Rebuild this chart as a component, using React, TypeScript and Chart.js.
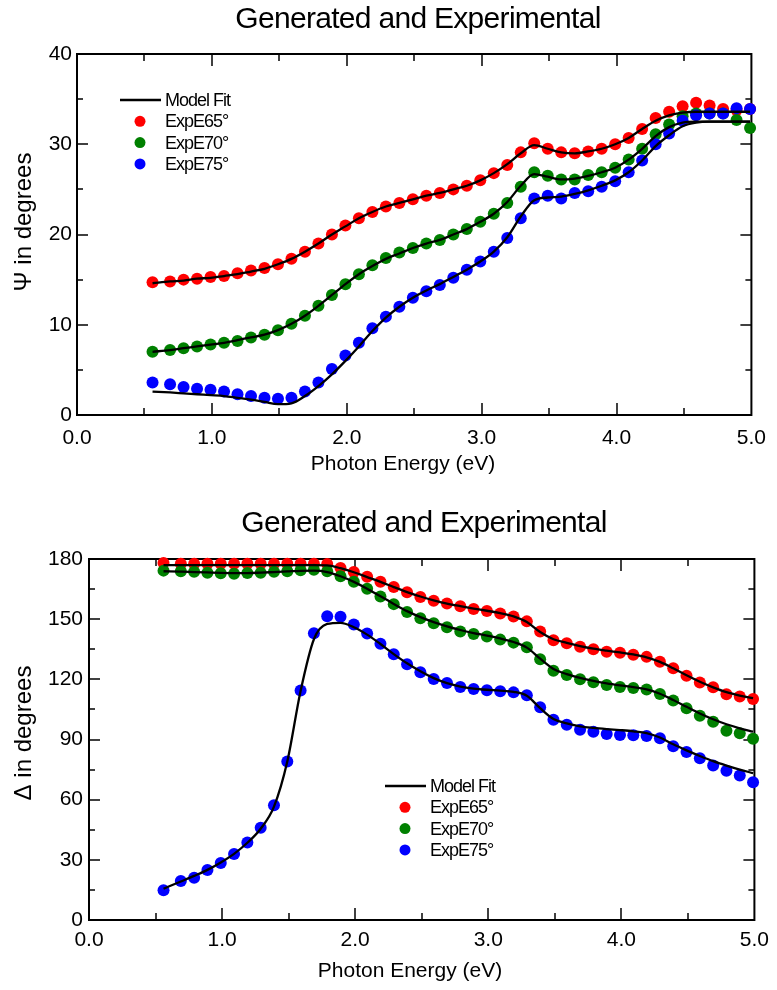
import React, { useEffect, useRef } from 'react';
import { Chart, registerables } from 'chart.js';

Chart.register(...registerables);

const FONT = '"Liberation Sans", Arial, Helvetica, sans-serif';

// Photon energy (eV) of every measured / fitted sample
const ENERGY = [0.56, 0.69, 0.79, 0.89, 0.99, 1.09, 1.19, 1.29, 1.39, 1.49, 1.59, 1.69, 1.79, 1.89, 1.99,
  2.09, 2.19, 2.29, 2.39, 2.49, 2.59, 2.69, 2.79, 2.89, 2.99, 3.09, 3.19, 3.29, 3.39, 3.49,
  3.59, 3.69, 3.79, 3.89, 3.99, 4.09, 4.19, 4.29, 4.39, 4.49, 4.59, 4.69, 4.79, 4.89, 4.99];

// Psi (degrees) - experimental
const PSI_65 = [14.7, 14.8, 15.0, 15.1, 15.3, 15.4, 15.7, 16.0, 16.3, 16.7, 17.3, 18.1, 19.0, 20.0, 21.0,
  21.8, 22.5, 23.1, 23.5, 23.9, 24.3, 24.6, 25.0, 25.4, 26.0, 26.8, 27.7, 29.1, 30.1, 29.5,
  29.1, 29.0, 29.2, 29.5, 30.0, 30.7, 31.7, 32.9, 33.6, 34.2, 34.6, 34.3, 33.9, 33.8, 33.9];
const PSI_70 = [7.0, 7.2, 7.4, 7.6, 7.8, 8.0, 8.2, 8.6, 8.9, 9.4, 10.1, 11.0, 12.1, 13.3, 14.5,
  15.6, 16.6, 17.4, 18.0, 18.5, 19.0, 19.4, 20.0, 20.6, 21.4, 22.3, 23.5, 25.3, 26.9, 26.5,
  26.1, 26.1, 26.6, 26.9, 27.4, 28.3, 29.5, 31.1, 32.2, 33.1, 33.4, 33.4, 33.4, 32.7, 31.8];
const PSI_75 = [3.6, 3.4, 3.1, 2.9, 2.8, 2.6, 2.3, 2.1, 1.9, 1.8, 1.9, 2.6, 3.6, 5.1, 6.6,
  8.0, 9.6, 10.9, 12.0, 13.0, 13.7, 14.4, 15.2, 16.1, 17.0, 18.1, 19.6, 21.8, 24.0, 24.3,
  24.0, 24.6, 24.8, 25.3, 25.9, 26.9, 28.2, 30.0, 31.2, 32.6, 33.2, 33.4, 33.4, 34.0, 33.9];
// Psi (degrees) - model fit
const PSI_FIT_65 = [14.6, 14.8, 14.9, 15.1, 15.2, 15.4, 15.6, 15.9, 16.2, 16.7, 17.3, 18.1, 19.0, 20.0, 20.9,
  21.8, 22.5, 23.1, 23.5, 23.9, 24.3, 24.6, 25.0, 25.4, 26.0, 26.8, 27.8, 29.0, 29.9, 29.5,
  29.1, 29.0, 29.2, 29.5, 30.0, 30.7, 31.7, 32.6, 33.2, 33.5, 33.6, 33.6, 33.6, 33.6, 33.6];
const PSI_FIT_70 = [7.0, 7.2, 7.4, 7.6, 7.8, 8.0, 8.3, 8.6, 8.9, 9.4, 10.1, 11.0, 12.1, 13.3, 14.5,
  15.6, 16.5, 17.3, 17.9, 18.5, 19.0, 19.4, 20.0, 20.6, 21.4, 22.3, 23.6, 25.4, 26.7, 26.4,
  26.1, 26.2, 26.5, 26.9, 27.4, 28.3, 29.5, 30.9, 31.9, 32.4, 32.5, 32.5, 32.5, 32.5, 32.5];
const PSI_FIT_75 = [2.6, 2.5, 2.4, 2.3, 2.2, 2.1, 1.9, 1.7, 1.45, 1.2, 1.3, 2.1, 3.2, 4.5, 6.0,
  7.6, 9.3, 10.8, 12.0, 13.0, 13.8, 14.5, 15.3, 16.1, 17.0, 18.1, 19.7, 22.0, 23.8, 24.1,
  24.2, 24.5, 24.9, 25.4, 26.0, 26.9, 28.2, 29.8, 31.0, 32.0, 32.4, 32.5, 32.5, 32.5, 32.5];

// Delta (degrees) - experimental
const DELTA_65 = [178.0, 177.6, 177.6, 177.6, 177.6, 177.6, 177.6, 177.6, 177.6, 177.6, 177.6, 177.6, 177.5, 175.5, 173.5,
  171.1, 168.6, 166.0, 163.4, 161.1, 159.2, 157.8, 156.4, 155.1, 154.1, 152.8, 151.3, 148.9, 143.9, 139.5,
  138.0, 136.2, 135.0, 133.8, 133.2, 132.2, 131.2, 128.8, 125.5, 121.8, 118.4, 116.1, 112.6, 111.4, 110.2];
const DELTA_70 = [174.2, 173.9, 173.6, 173.2, 172.9, 172.7, 173.0, 173.2, 173.6, 173.9, 174.4, 174.6, 173.9, 171.4, 168.6,
  165.2, 161.3, 157.5, 153.6, 150.5, 148.0, 146.0, 143.9, 142.6, 141.4, 139.8, 138.3, 136.0, 130.0, 124.3,
  122.2, 120.0, 118.5, 117.2, 116.2, 115.7, 114.9, 112.7, 109.4, 105.6, 101.9, 98.9, 94.4, 93.1, 90.4];
const DELTA_75 = [14.8, 19.5, 21.1, 24.9, 28.4, 32.9, 38.7, 46.0, 57.2, 79.0, 114.4, 143.0, 151.4, 151.2, 147.3,
  142.9, 137.8, 132.5, 127.5, 123.5, 120.2, 118.2, 116.2, 115.2, 114.6, 114.0, 113.5, 112.1, 106.1, 99.9,
  97.3, 94.9, 93.9, 92.8, 92.3, 92.1, 91.8, 90.6, 86.6, 83.8, 80.6, 77.0, 74.4, 72.0, 68.7];
// Delta (degrees) - model fit
const DELTA_FIT_65 = [176.9, 176.9, 176.9, 176.9, 176.9, 176.9, 176.9, 176.9, 176.9, 176.9, 176.9, 176.9, 176.8, 175.4, 173.4,
  171.0, 168.6, 166.0, 163.5, 161.3, 159.4, 157.8, 156.5, 155.3, 154.2, 153.0, 151.4, 148.6, 143.6, 140.0,
  138.2, 136.6, 135.3, 134.3, 133.4, 132.4, 131.0, 128.7, 125.5, 122.0, 118.8, 116.0, 113.6, 111.9, 110.6];
const DELTA_FIT_70 = [173.9, 173.7, 173.5, 173.3, 173.1, 173.0, 173.0, 173.2, 173.5, 173.8, 174.1, 174.2, 173.5, 171.4, 168.6,
  165.2, 161.4, 157.6, 154.0, 151.0, 148.5, 146.4, 144.6, 143.1, 141.8, 140.4, 138.6, 135.8, 130.3, 125.2,
  122.6, 120.7, 119.2, 118.0, 117.0, 116.1, 115.0, 112.8, 109.7, 106.3, 103.0, 100.1, 97.6, 95.6, 93.9];
const DELTA_FIT_75 = [15.6, 19.2, 22.0, 25.0, 28.7, 33.0, 38.5, 45.5, 56.5, 79.0, 114.2, 140.0, 147.6, 148.2, 146.0,
  142.3, 137.6, 132.6, 128.0, 124.0, 120.6, 118.1, 116.4, 115.4, 114.8, 114.4, 113.8, 111.8, 105.6, 100.2,
  98.0, 96.6, 95.8, 95.2, 94.7, 94.1, 93.2, 91.0, 87.6, 84.6, 81.8, 79.2, 77.0, 75.0, 73.2];

const SERIES_LABELS = ['ExpE65°', 'ExpE70°', 'ExpE75°'];
const FIT_LABEL = 'Model Fit';
const COLORS = ['#ff0000', '#008000', '#0000ff'];
const TITLE = 'Generated and Experimental';
const X_TITLE = 'Photon Energy (eV)';

const pts = (ys: number[]) => ys.map((y, i) => ({ x: ENERGY[i], y }));

const decorPlugin = {
  id: 'decor',
  beforeDatasetsDraw(chart: any) {
    const { ctx, chartArea: a, scales } = chart;
    ctx.save();
    ctx.strokeStyle = '#000';
    ctx.lineWidth = 2;
    ctx.strokeRect(a.left, a.top, a.right - a.left, a.bottom - a.top);
    ctx.lineWidth = 1.5;
    const seg = (x1: number, y1: number, x2: number, y2: number) => {
      ctx.beginPath(); ctx.moveTo(x1, y1); ctx.lineTo(x2, y2); ctx.stroke();
    };
    scales.x.ticks.forEach((t: any) => {
      const px = Math.round(scales.x.getPixelForValue(t.value));
      if (px <= a.left + 1 || px >= a.right - 1) return;
      const len = t.label ? 12 : 7;
      seg(px, a.bottom, px, a.bottom - len);
      seg(px, a.top, px, a.top + len);
    });
    scales.y.ticks.forEach((t: any) => {
      const py = Math.round(scales.y.getPixelForValue(t.value));
      if (py <= a.top + 1 || py >= a.bottom - 1) return;
      const len = t.label ? 11 : 6;
      seg(a.left, py, a.left + len, py);
      seg(a.right, py, a.right - len, py);
    });
    ctx.restore();
  },
  afterDraw(chart: any, _a: any, o: any) {
    const { ctx, chartArea: a } = chart;
    ctx.save();
    ctx.fillStyle = '#000';
    // chart title
    ctx.font = `30px ${FONT}`;
    (ctx as any).letterSpacing = '-0.7px';
    ctx.textAlign = 'center';
    ctx.textBaseline = 'alphabetic';
    ctx.fillText(TITLE, o.titleX, o.titleY);
    // x axis title
    (ctx as any).letterSpacing = '0px';
    ctx.font = `21px ${FONT}`;
    ctx.fillText(X_TITLE, o.xTitleX, o.xTitleY);
    // y axis title
    ctx.save();
    ctx.font = `24px ${FONT}`;
    ctx.translate(o.yTitleX, o.yTitleY);
    ctx.rotate(-Math.PI / 2);
    ctx.fillText(o.yTitle, 0, 0);
    ctx.restore();
    // legend
    const lx = a.left + o.legX;
    const ly = a.top + o.legY;
    const gap = 21.3;
    ctx.strokeStyle = '#000';
    ctx.lineWidth = 2.5;
    ctx.beginPath(); ctx.moveTo(lx, ly); ctx.lineTo(lx + 41, ly); ctx.stroke();
    ctx.font = `18px ${FONT}`;
    (ctx as any).letterSpacing = '-1px';
    ctx.textAlign = 'left';
    ctx.textBaseline = 'middle';
    ctx.fillText(FIT_LABEL, lx + 45, ly + 1);
    SERIES_LABELS.forEach((lab, i) => {
      const yy = ly + gap * (i + 1);
      ctx.fillStyle = COLORS[i];
      ctx.beginPath(); ctx.arc(lx + 20, yy, 5.5, 0, Math.PI * 2); ctx.fill();
      ctx.fillStyle = '#000';
      ctx.fillText(lab, lx + 45, yy + 1);
    });
    ctx.restore();
  },
};

type Cfg = {
  exp: number[][];
  fit: number[][];
  yMax: number;
  yStep: number;
  yMajor: number;
  yWidth: number;
  xHeight: number;
  padTop: number;
  xPad: number;
  yPad: number;
  decor: any;
};

function buildChart(canvas: HTMLCanvasElement, c: Cfg) {
  const datasets: any[] = [];
  c.fit.forEach((ys) => {
    datasets.push({
      label: FIT_LABEL,
      data: pts(ys),
      borderColor: '#000',
      borderWidth: 2.3,
      pointRadius: 0,
      showLine: true,
      cubicInterpolationMode: 'monotone',
      order: 0,
      clip: false,
    });
  });
  c.exp.forEach((ys, i) => {
    datasets.push({
      label: SERIES_LABELS[i],
      data: pts(ys),
      showLine: false,
      pointRadius: 6,
      pointBackgroundColor: COLORS[i],
      pointBorderWidth: 0,
      borderColor: COLORS[i],
      order: 3 - i,
      clip: false,
    });
  });
  return new Chart(canvas, {
    type: 'line',
    data: { datasets },
    plugins: [decorPlugin as any],
    options: {
      animation: false,
      responsive: false,
      devicePixelRatio: 1,
      layout: { padding: { top: c.padTop, right: 20, left: 0, bottom: 0 } },
      plugins: {
        legend: { display: false },
        tooltip: { enabled: false },
        title: { display: false },
        decor: c.decor,
      } as any,
      scales: {
        x: {
          type: 'linear',
          min: 0,
          max: 5,
          grid: { display: false, drawTicks: false },
          border: { display: false },
          ticks: {
            stepSize: 0.5,
            autoSkip: false,
            maxRotation: 0,
            padding: c.xPad,
            color: '#000',
            font: { family: FONT, size: 21 },
            callback: (v: any) => (Math.abs(v - Math.round(v)) < 1e-6 ? Number(v).toFixed(1) : ''),
          },
          afterFit: (s: any) => { s.height = c.xHeight; },
        },
        y: {
          type: 'linear',
          min: 0,
          max: c.yMax,
          grid: { display: false, drawTicks: false },
          border: { display: false },
          ticks: {
            stepSize: c.yStep,
            autoSkip: false,
            padding: c.yPad,
            color: '#000',
            font: { family: FONT, size: 21 },
            callback: (v: any) => (Math.abs(v % c.yMajor) < 1e-6 ? String(v) : ''),
          },
          afterFit: (s: any) => { s.width = c.yWidth; },
        },
      },
    } as any,
  });
}

export default function App() {
  const topRef = useRef<HTMLCanvasElement>(null);
  const botRef = useRef<HTMLCanvasElement>(null);

  useEffect(() => {
    document.body.style.margin = '0';
    const top = buildChart(topRef.current!, {
      exp: [PSI_65, PSI_70, PSI_75],
      fit: [PSI_FIT_65, PSI_FIT_70, PSI_FIT_75],
      yMax: 40,
      yStep: 5,
      yMajor: 10,
      yWidth: 77,
      xHeight: 80,
      padTop: 54,
      xPad: 11,
      yPad: 5,
      decor: {
        titleX: 418, titleY: 28,
        xTitleX: 403, xTitleY: 470,
        yTitle: 'Ψ in degrees', yTitleX: 31, yTitleY: 222,
        legX: 43, legY: 46,
      },
    });
    const bot = buildChart(botRef.current!, {
      exp: [DELTA_65, DELTA_70, DELTA_75],
      fit: [DELTA_FIT_65, DELTA_FIT_70, DELTA_FIT_75],
      yMax: 180,
      yStep: 15,
      yMajor: 30,
      yWidth: 89,
      xHeight: 70,
      padTop: 64,
      xPad: 8,
      yPad: 6,
      decor: {
        titleX: 424, titleY: 37,
        xTitleX: 410, xTitleY: 482,
        yTitle: 'Δ in degrees', yTitleX: 31, yTitleY: 238,
        legX: 296, legY: 227,
      },
    });
    return () => { top.destroy(); bot.destroy(); };
  }, []);

  return (
    <div style={{ width: 777, height: 990, background: '#fff' }}>
      <canvas ref={topRef} width={777} height={495} style={{ display: 'block' }} />
      <canvas ref={botRef} width={777} height={495} style={{ display: 'block' }} />
    </div>
  );
}
